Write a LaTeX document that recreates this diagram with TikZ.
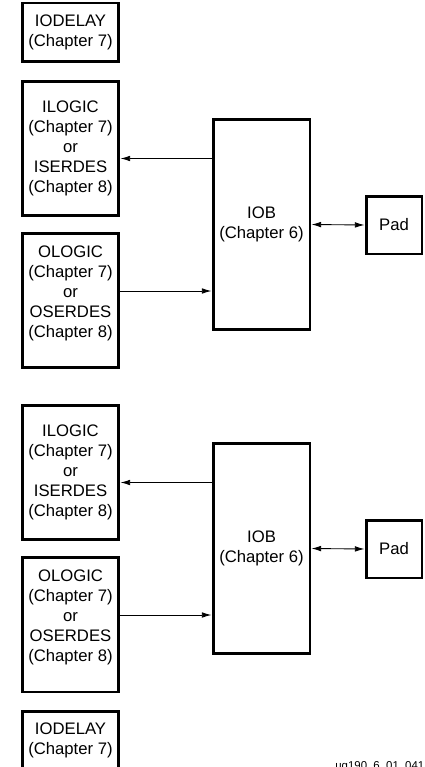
\documentclass[tikz,border=0pt]{standalone}
\usepackage{fontspec}
\setmainfont{Liberation Sans}
\usetikzlibrary{arrows.meta,calc}

\begin{document}
\begin{tikzpicture}[x=0.02cm, y=-0.02cm,
    blk/.style={rectangle, draw=black, line width=1.7pt, minimum width=1.94cm, align=center, font=\fontsize{9.5}{11.3}\selectfont, inner sep=1pt},
    arr/.style={-{Latex[length=5.5pt,width=3.2pt]}, line width=0.5pt},
    darr/.style={{Latex[length=5.5pt,width=3.2pt]}-{Latex[length=5.5pt,width=3.2pt]}, line width=0.5pt}
]
    \useasboundingbox (0,0) rectangle (424,767);
    \clip (0,0) rectangle (424,767);

    % Upper group
    \node[blk, minimum height=1.18cm] (iodA) at (70.5,32.5) {IODELAY\\(Chapter 7)};
    \node[blk, minimum height=2.7cm] (ilogA) at (70.5,148.5) {ILOGIC\\(Chapter 7)\\or\\ISERDES\\(Chapter 8)};
    \node[blk, minimum height=2.7cm, text depth=0.35cm] (ologA) at (70.5,300.5) {OLOGIC\\(Chapter 7)\\or\\OSERDES\\(Chapter 8)};
    \node[blk, minimum height=4.22cm] (iobA) at (261.5,224.5) {IOB\\(Chapter 6)};
    \node[blk, minimum width=1.12cm, minimum height=1.16cm] (padA) at (394,225) {Pad};

    \draw[arr] ($(iobA.west |- ilogA.east)+(0,10)$) -- ($(ilogA.east)+(0,10)$);
    \draw[arr] ($(ologA.east)+(0,-9.5)$) -- ($(iobA.west |- ologA.east)+(0,-9.5)$);
    \draw[darr] (iobA.east) -- (padA.west);

    % Lower group
    \node[blk, minimum height=2.7cm] (ilogB) at (70.5,472.5) {ILOGIC\\(Chapter 7)\\or\\ISERDES\\(Chapter 8)};
    \node[blk, minimum height=2.7cm, text depth=0.35cm] (ologB) at (70.5,624.5) {OLOGIC\\(Chapter 7)\\or\\OSERDES\\(Chapter 8)};
    \node[blk, minimum height=4.22cm] (iobB) at (261.5,548.5) {IOB\\(Chapter 6)};
    \node[blk, minimum width=1.12cm, minimum height=1.16cm] (padB) at (394,549) {Pad};
    \node[blk, minimum height=1.18cm] (iodB) at (70.5,740.5) {IODELAY\\(Chapter 7)};

    \draw[arr] ($(iobB.west |- ilogB.east)+(0,10)$) -- ($(ilogB.east)+(0,10)$);
    \draw[arr] ($(ologB.east)+(0,-9.5)$) -- ($(iobB.west |- ologB.east)+(0,-9.5)$);
    \draw[darr] (iobB.east) -- (padB.west);

    % Figure tag
    \node[font=\fontsize{6.5}{7}\selectfont, anchor=base west, inner sep=0pt] (figid) at (335,769) {ug190\_6\_01\_041};
\end{tikzpicture}
\end{document}
